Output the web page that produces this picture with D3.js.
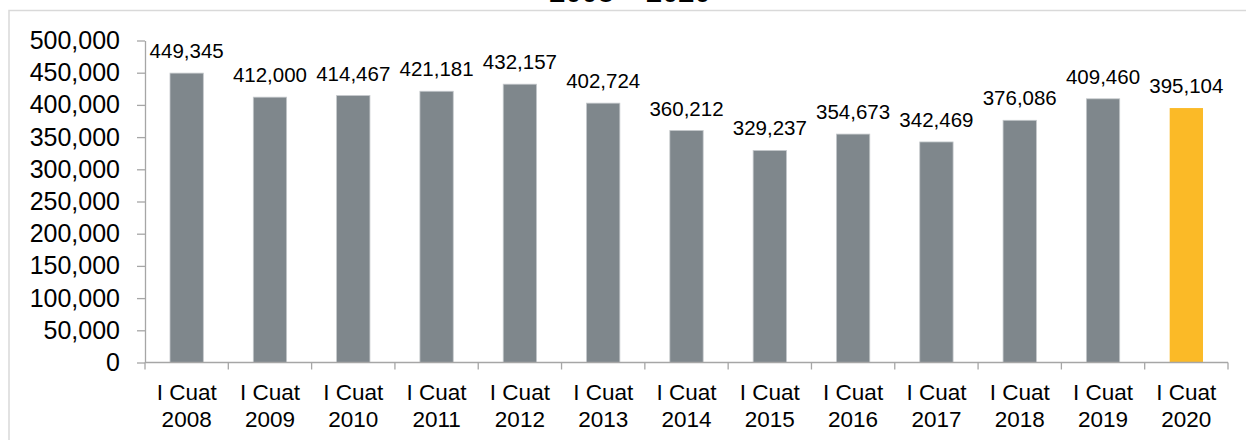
<!DOCTYPE html>
<html>
<head>
<meta charset="utf-8">
<script src="https://cdn.jsdelivr.net/npm/d3@7"></script>
<style>
  html, body { margin: 0; padding: 0; background: #fff; }
  svg { display: block; font-family: "Liberation Sans", Arial, sans-serif; }
</style>
</head>
<body>
<svg id="chart" width="1246" height="440"></svg>
<script>
const title = "2008 – 2020";
const categories = ["I Cuat 2008","I Cuat 2009","I Cuat 2010","I Cuat 2011","I Cuat 2012","I Cuat 2013","I Cuat 2014","I Cuat 2015","I Cuat 2016","I Cuat 2017","I Cuat 2018","I Cuat 2019","I Cuat 2020"];
const values = [449345, 412000, 414467, 421181, 432157, 402724, 360212, 329237, 354673, 342469, 376086, 409460, 395104];
const highlight = [false,false,false,false,false,false,false,false,false,false,false,false,true];
const yTicks = [0,50000,100000,150000,200000,250000,300000,350000,400000,450000,500000];

const svg = d3.select("#chart");
const W = 1246, H = 440;
const m = {left: 145, right: 18, top: 40.5, bottom: 77.5};

// outer frame
svg.append("rect").attr("x", 9).attr("y", 10.5).attr("width", W + 20).attr("height", H + 20)
  .attr("fill", "none").attr("stroke", "#d9d9d9").attr("stroke-width", 1.5);

// title (cut at top, as in the reference)
svg.append("text").attr("x", 630).attr("y", 2).attr("text-anchor", "middle")
  .attr("font-size", 29).attr("font-weight", "bold").attr("fill", "#000").text(title);

const x = d3.scaleBand().domain(categories).range([m.left, W - m.right]).paddingInner(0.6).paddingOuter(0.3);
const y = d3.scaleLinear().domain([0, 500000]).range([H - m.bottom, m.top]);
const fmt = d3.format(",");

// bars
svg.append("g").selectAll("rect").data(values).join("rect")
  .attr("x", (d, i) => x(categories[i]))
  .attr("y", d => y(d))
  .attr("width", x.bandwidth())
  .attr("height", d => y(0) - y(d))
  .attr("fill", (d, i) => highlight[i] ? "#fbba27" : "#7f878c")
  .attr("stroke", (d, i) => highlight[i] ? "none" : "#c4c8cb")
  .attr("stroke-width", 0.8);

// value labels
svg.append("g").selectAll("text").data(values).join("text")
  .attr("x", (d, i) => x(categories[i]) + x.bandwidth() / 2)
  .attr("y", d => y(d) - 15)
  .attr("text-anchor", "middle")
  .attr("font-size", 20.5)
  .attr("fill", "#000")
  .text(d => fmt(d));

// y axis
const yAxis = svg.append("g").attr("transform", `translate(${m.left},0)`)
  .call(d3.axisLeft(y).tickValues(yTicks).tickFormat(fmt).tickSize(8).tickSizeOuter(0).tickPadding(17));
yAxis.select(".domain").attr("stroke", "#a6a6a6").attr("stroke-width", 1.3);
yAxis.selectAll(".tick line").attr("stroke", "#a6a6a6").attr("stroke-width", 1.3);
yAxis.selectAll(".tick text").attr("font-size", 25).attr("fill", "#000")
  .attr("font-family", "Liberation Sans, Arial, sans-serif");

// x axis (ticks at category boundaries)
const xg = svg.append("g").attr("transform", `translate(0,${y(0)})`);
xg.append("line").attr("x1", m.left).attr("x2", W - m.right).attr("stroke", "#a6a6a6").attr("stroke-width", 1.3);
const bounds = d3.range(categories.length + 1).map(i => m.left + i * (W - m.right - m.left) / categories.length);
xg.selectAll("line.tk").data(bounds).join("line").attr("class", "tk")
  .attr("x1", d => d).attr("x2", d => d).attr("y1", 0).attr("y2", 7)
  .attr("stroke", "#a6a6a6").attr("stroke-width", 1.3);
const lbl = xg.selectAll("text").data(categories).join("text")
  .attr("text-anchor", "middle")
  .attr("font-size", 22.5).attr("fill", "#000")
  .attr("transform", d => `translate(${x(d) + x.bandwidth() / 2},0)`);
lbl.append("tspan").attr("x", 0).attr("y", 37).text(d => d.split(" ").slice(0, 2).join(" "));
lbl.append("tspan").attr("x", 0).attr("y", 64).text(d => d.split(" ")[2]);
</script>
</body>
</html>
